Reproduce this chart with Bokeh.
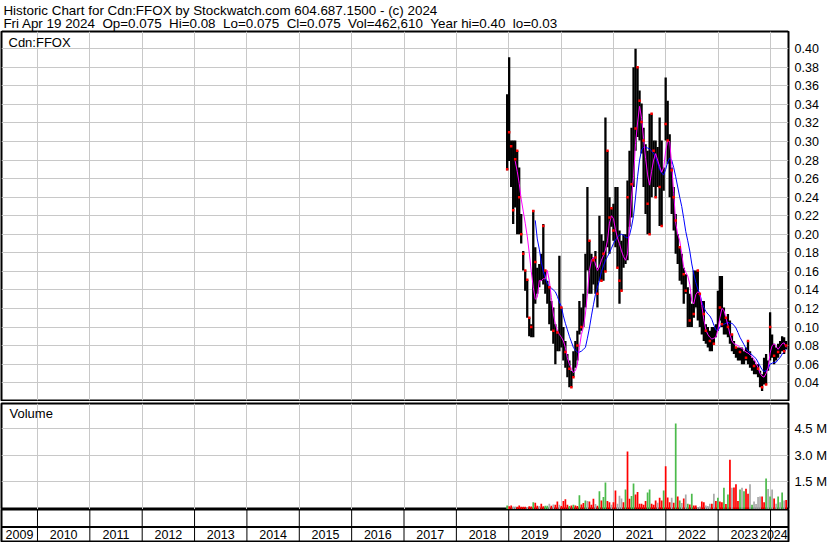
import numpy as np
import pandas as pd
from bokeh.plotting import figure
from bokeh.layouts import column
from bokeh.models import (Range1d, FixedTicker, Label, Span,
                          ColumnDataSource, PrintfTickFormatter)
from bokeh.core.properties import value
from bokeh.embed import file_html
from bokeh.resources import INLINE

# ---------------- data ----------------
title_line1 = "Historic Chart for Cdn:FFOX by Stockwatch.com 604.687.1500 - (c) 2024"
title_line2 = ("Fri Apr 19 2024 \u00a0Op=0.075 \u00a0Hi=0.08 \u00a0Lo=0.075 \u00a0Cl=0.075"
               " \u00a0Vol=462,610 \u00a0Year hi=0.40 \u00a0lo=0.03")
symbol_label = "Cdn:FFOX"
volume_label = "Volume"

last_date = "2024-04-19"   # bi-weekly bars ending on this date

price_high = [
    0.351, 0.391, 0.301, 0.301, 0.301, 0.290, 0.272, 0.222, 0.182, 0.161,
    0.151, 0.110, 0.103, 0.226, 0.186, 0.164, 0.168, 0.179, 0.211, 0.161,
    0.150, 0.143, 0.128, 0.121, 0.103, 0.096, 0.177, 0.121, 0.100, 0.085,
    0.071, 0.064, 0.053, 0.074, 0.085, 0.096, 0.128, 0.121, 0.136, 0.179,
    0.251, 0.193, 0.179, 0.175, 0.182, 0.164, 0.220, 0.200, 0.193, 0.326,
    0.290, 0.240, 0.229, 0.233, 0.251, 0.251, 0.204, 0.193, 0.200, 0.200,
    0.258, 0.290, 0.315, 0.380, 0.400, 0.380, 0.355, 0.341, 0.315, 0.297,
    0.290, 0.330, 0.330, 0.301, 0.301, 0.294, 0.326, 0.301, 0.272, 0.369,
    0.344, 0.308, 0.272, 0.251, 0.222, 0.200, 0.186, 0.179, 0.164, 0.157,
    0.143, 0.136, 0.125, 0.161, 0.161, 0.161, 0.136, 0.128, 0.128, 0.103,
    0.100, 0.096, 0.100, 0.100, 0.103, 0.139, 0.155, 0.155, 0.121, 0.110,
    0.114, 0.107, 0.092, 0.085, 0.078, 0.078, 0.078, 0.078, 0.074, 0.078,
    0.085, 0.074, 0.067, 0.064, 0.060, 0.060, 0.053, 0.049, 0.067, 0.071,
    0.064, 0.116, 0.092, 0.082, 0.078, 0.082, 0.085, 0.090, 0.089, 0.085]

price_low = [
    0.269, 0.279, 0.251, 0.211, 0.229, 0.200, 0.200, 0.190, 0.161, 0.139,
    0.110, 0.090, 0.089, 0.089, 0.125, 0.136, 0.143, 0.150, 0.146, 0.136,
    0.125, 0.103, 0.096, 0.082, 0.060, 0.074, 0.074, 0.078, 0.064, 0.056,
    0.046, 0.035, 0.035, 0.046, 0.056, 0.064, 0.092, 0.096, 0.100, 0.121,
    0.161, 0.136, 0.136, 0.146, 0.136, 0.121, 0.150, 0.150, 0.150, 0.160,
    0.186, 0.179, 0.208, 0.193, 0.186, 0.164, 0.125, 0.139, 0.164, 0.168,
    0.172, 0.208, 0.218, 0.251, 0.290, 0.305, 0.301, 0.287, 0.251, 0.222,
    0.200, 0.200, 0.240, 0.251, 0.240, 0.251, 0.209, 0.209, 0.247, 0.301,
    0.276, 0.240, 0.222, 0.204, 0.179, 0.168, 0.150, 0.146, 0.125, 0.136,
    0.100, 0.100, 0.100, 0.110, 0.121, 0.107, 0.100, 0.092, 0.085, 0.082,
    0.078, 0.074, 0.074, 0.082, 0.089, 0.096, 0.107, 0.100, 0.092, 0.092,
    0.089, 0.082, 0.074, 0.071, 0.067, 0.064, 0.064, 0.060, 0.060, 0.064,
    0.060, 0.056, 0.053, 0.049, 0.049, 0.046, 0.035, 0.031, 0.038, 0.038,
    0.053, 0.064, 0.067, 0.060, 0.064, 0.067, 0.071, 0.074, 0.071, 0.076]

close_marks = [
    0.270, 0.310, 0.295, 0.226, 0.281, 0.290, 0.240, 0.200, 0.179, 0.161,
    0.151, 0.110, 0.100, 0.225, 0.170, None, None, None, 0.209, 0.161,
    None, 0.143, None, 0.096, None, 0.094, None, 0.121, None, 0.073,
    None, 0.055, 0.035, 0.046, None, 0.080, None, 0.100, None, None,
    None, 0.193, None, 0.172, 0.175, 0.136, None, 0.150, 0.179, 0.160,
    0.290, 0.218, 0.228, 0.204, None, 0.164, 0.150, 0.139, None, None,
    0.240, None, 0.254, None, 0.314, 0.380, 0.344, 0.321, 0.301, None,
    0.233, 0.200, 0.330, 0.290, 0.240, None, 0.251, 0.209, None, 0.319,
    0.301, None, 0.269, 0.240, 0.215, None, 0.186, None, 0.157, 0.139,
    None, 0.107, None, 0.114, None, 0.161, 0.136, None, 0.114, 0.096,
    None, 0.085, None, 0.082, None, None, 0.121, 0.103, None, 0.110,
    0.100, None, 0.092, None, 0.078, None, 0.073, None, None, 0.067,
    0.085, None, None, 0.058, None, 0.055, None, 0.035, None, 0.038,
    None, 0.100, None, 0.069, None, 0.073, None, None, 0.074, 0.080]

ma_short = [
    None, None, None, None, 0.279, 0.268, 0.255, 0.238, 0.225, 0.212,
    0.198, 0.180, 0.160, 0.143, 0.130, 0.132, 0.150, 0.150, 0.152, 0.152,
    0.161, 0.150, 0.132, 0.114, 0.103, 0.096, 0.092, 0.089, 0.085, 0.078,
    0.067, 0.060, 0.055, 0.051, 0.053, 0.060, 0.078, 0.092, 0.100, 0.114,
    0.136, 0.161, 0.172, 0.175, 0.168, 0.161, 0.165, 0.172, 0.177, 0.183,
    0.193, 0.212, 0.220, 0.217, 0.205, 0.196, 0.190, 0.182, 0.176, 0.172,
    0.179, 0.208, 0.240, 0.262, 0.298, 0.320, 0.338, 0.325, 0.303, 0.282,
    0.264, 0.253, 0.268, 0.280, 0.287, 0.280, 0.273, 0.267, 0.272, 0.290,
    0.301, 0.300, 0.275, 0.245, 0.212, 0.200, 0.193, 0.179, 0.164, 0.159,
    0.155, 0.146, 0.128, 0.125, 0.135, 0.138, 0.136, 0.123, 0.108, 0.097,
    0.092, 0.089, 0.087, 0.088, 0.089, 0.097, 0.110, 0.120, 0.118, 0.110,
    0.102, 0.092, 0.085, 0.082, 0.081, 0.080, 0.078, 0.077, 0.075, 0.073,
    0.072, 0.070, 0.068, 0.065, 0.061, 0.056, 0.050, 0.047, 0.046, 0.050,
    0.056, 0.072, 0.080, 0.082, 0.079, 0.076, 0.079, 0.082, 0.083, 0.078]

ma_long = [
    None, None, None, None, None, None, None, None, None, None,
    None, None, None, None, 0.215, 0.195, 0.184, 0.170, 0.160, 0.153,
    0.147, 0.144, 0.142, 0.140, 0.138, 0.133, 0.127, 0.122, 0.112, 0.104,
    0.097, 0.090, 0.084, 0.078, 0.075, 0.073, 0.073, 0.074, 0.076, 0.078,
    0.088, 0.099, 0.112, 0.124, 0.135, 0.143, 0.150, 0.160, 0.166, 0.172,
    0.176, 0.180, 0.185, 0.190, 0.194, 0.197, 0.199, 0.200, 0.199, 0.197,
    0.196, 0.199, 0.208, 0.220, 0.240, 0.262, 0.280, 0.291, 0.294, 0.294,
    0.293, 0.292, 0.290, 0.287, 0.283, 0.277, 0.270, 0.266, 0.264, 0.270,
    0.278, 0.282, 0.280, 0.272, 0.262, 0.251, 0.240, 0.230, 0.217, 0.203,
    0.193, 0.182, 0.168, 0.157, 0.148, 0.141, 0.136, 0.127, 0.121, 0.117,
    0.114, 0.112, 0.108, 0.102, 0.097, 0.096, 0.100, 0.103, 0.103, 0.104,
    0.105, 0.104, 0.104, 0.102, 0.099, 0.094, 0.089, 0.085, 0.081, 0.077,
    0.074, 0.072, 0.070, 0.068, 0.066, 0.062, 0.058, 0.054, 0.052, 0.053,
    0.055, 0.060, 0.061, 0.062, 0.062, 0.065, 0.067, 0.071, 0.073, 0.076]

volume_m = [
    0.11, 0.06, 0.11, 0.05, 0.05, 0.04, 0.11, 0.04, 0.04, 0.04,
    0.03, 0.07, 0.05, 0.29, 0.27, 0.10, 0.08, 0.21, 0.06, 0.10,
    0.10, 0.21, 0.10, 0.17, 0.15, 0.34, 0.15, 0.08, 0.36, 0.46,
    0.15, 0.08, 0.11, 0.15, 0.11, 0.08, 0.69, 0.17, 0.25, 0.40,
    0.36, 0.34, 0.15, 0.50, 0.19, 0.10, 0.92, 0.40, 0.59, 1.43,
    0.36, 0.30, 0.15, 0.30, 0.97, 0.21, 0.67, 0.51, 0.30, 1.03,
    3.20, 0.50, 0.65, 1.37, 0.74, 0.88, 0.21, 0.21, 0.15, 0.36,
    0.86, 1.03, 0.21, 0.15, 0.40, 0.27, 0.55, 0.40, 0.97, 2.35,
    0.57, 0.30, 0.55, 0.27, 4.80, 0.63, 0.40, 0.25, 0.51, 0.74,
    0.21, 0.17, 0.78, 0.11, 0.11, 0.02, 0.05, 0.34, 0.29, 0.11,
    0.08, 0.21, 0.21, 0.78, 0.36, 0.55, 0.34, 0.30, 1.13, 0.20,
    0.74, 2.73, 1.13, 1.14, 1.32, 0.36, 1.03, 1.13, 0.92, 1.07,
    0.78, 1.32, 0.15, 0.34, 0.20, 0.59, 0.63, 0.63, 0.30, 1.66,
    1.05, 0.63, 1.03, 0.51, 0.21, 0.63, 0.29, 0.86, 0.40, 0.42]

# u = up (green), d = down (red), f = unchanged (gray)
volume_dir = (
    "u d d f f d d d d d "
    "f d d u d d f d d u "
    "u f d f d d f d d d "
    "d u d u d d u d d u "
    "f d d d f d u d u u "
    "d d f d d f f f d u "
    "d d u u d d d d d d "
    "u u d d d f d d u d "
    "d d f d u d u f d f "
    "u d u d d f f d d f "
    "f f d f d u d d u d "
    "u d f d d d u f u d "
    "d f u f f f f d d u "
    "f u f d f u f u f d").split()

year_labels = ["2009", "2010", "2011", "2012", "2013", "2014", "2015", "2016",
               "2017", "2018", "2019", "2020", "2021", "2022", "2023", "2024"]
price_ticks = [0.04, 0.06, 0.08, 0.10, 0.12, 0.14, 0.16, 0.18, 0.20,
               0.22, 0.24, 0.26, 0.28, 0.30, 0.32, 0.34, 0.36, 0.38, 0.40]
volume_ticks = [1.5, 3.0, 4.5]
volume_tick_labels = ["1.5 M", "3.0 M", "4.5 M"]

# ---------------- derived ----------------
n = len(price_high)
dates = pd.date_range(end=last_date, periods=n, freq="14D")
days_in_year = np.where(dates.is_leap_year, 366.0, 365.0)
t = dates.year.values + (dates.dayofyear.values - 1) / days_in_year

def arr(v):
    return np.array([np.nan if x is None else x for x in v], dtype=float)

dir_colors = {"u": "#4cbb4c", "d": "#ff0000", "f": "#aaaaaa"}
vol_colors = [dir_colors[d] for d in volume_dir]

X_START, X_END = 2009.313, 2024.343
P_LO, P_HI = 0.0208, 0.41865
V_LO, V_HI = -0.12, 5.95

year_bounds = [int(y) for y in year_labels[1:]]
# year label sits in the middle of the visible part of its year cell,
# kept inside the strip so it is not cut by the right edge
label_x = [min((max(int(y), X_START) + min(int(y) + 1, X_END)) / 2, X_END - 0.28)
           for y in year_labels]

GRID = "#c8c8c8"
FONT = "Liberation Sans"
W = 830
RIGHT = 41
bar_w = 16 / 365.25
vol_w = 12 / 365.25

xr = Range1d(X_START, X_END)

def bare(fig):
    fig.xgrid.visible = False
    fig.ygrid.visible = False
    fig.background_fill_color = "white"
    fig.border_fill_color = "white"

# ---------------- header ----------------
h = figure(width=W, height=31, x_range=Range1d(0, W), y_range=Range1d(31, 0),
           x_axis_location=None, y_axis_location=None, title=None,
           output_backend="svg", toolbar_location=None,
           min_border_left=0, min_border_right=0, min_border_top=0, min_border_bottom=0)
bare(h)
h.outline_line_color = None
h.add_layout(Label(x=2, y=2.0, text=title_line1, text_font=FONT, text_font_size="13.4px",
                   text_color="black", text_baseline="top"))
h.add_layout(Label(x=2, y=15.6, text=title_line2, text_font=FONT, text_font_size="13.4px",
                   text_color="black", text_baseline="top"))
h.add_layout(Span(location=30.5, dimension="width", line_color="black", line_width=1))

# ---------------- price panel ----------------
src = ColumnDataSource(dict(t=t, hi=arr(price_high), lo=arr(price_low),
                            cl=arr(close_marks), ma1=arr(ma_short), ma2=arr(ma_long)))

p = figure(width=W, height=370, x_range=xr, y_range=Range1d(P_LO, P_HI),
           x_axis_location=None, y_axis_location="right", title=None,
           output_backend="svg", toolbar_location=None,
           min_border_left=1, min_border_right=RIGHT, min_border_top=0, min_border_bottom=1)

p.vbar(x="t", width=bar_w, top="hi", bottom="lo", source=src,
       fill_color="black", line_color=None)
p.line(x="t", y="ma2", source=src, line_color="#0000ff", line_width=1)
p.line(x="t", y="ma1", source=src, line_color="#ff00ff", line_width=1)
p.scatter(x="t", y="cl", source=src, marker="square", size=2.5,
          fill_color="#ff0000", line_color=None)

p.add_layout(Label(x=X_START, y=0.4146, x_offset=7, text=symbol_label, text_font=FONT,
                   text_font_size="13px", text_color="black", text_baseline="top"))

# ---------------- volume panel ----------------
vsrc = ColumnDataSource(dict(t=t, v=arr(volume_m), c=vol_colors))
v = figure(width=W, height=108, x_range=xr, y_range=Range1d(V_LO, V_HI),
           x_axis_location=None, y_axis_location="right", title=None,
           output_backend="svg", toolbar_location=None,
           min_border_left=1, min_border_right=RIGHT, min_border_top=2, min_border_bottom=0)
v.vbar(x="t", width=vol_w, top="v", bottom=V_LO, source=vsrc,
       fill_color="c", line_color=None)
v.add_layout(Label(x=X_START, y=5.79, x_offset=8, text=volume_label, text_font=FONT,
                   text_font_size="13px", text_color="black", text_baseline="top"))

for fig, ticks, fsize in ((p, price_ticks, "12.5px"), (v, volume_ticks, "13px")):
    fig.outline_line_color = "black"
    fig.outline_line_width = 2
    fig.background_fill_color = "white"
    fig.border_fill_color = "white"
    fig.xgrid.ticker = FixedTicker(ticks=year_bounds)
    fig.ygrid.ticker = FixedTicker(ticks=ticks)
    for g in (fig.xgrid, fig.ygrid):
        g.grid_line_color = GRID
        g.grid_line_width = 1
    ax = fig.yaxis[0]
    ax.ticker = FixedTicker(ticks=ticks)
    ax.axis_line_color = None
    ax.major_tick_line_color = None
    ax.minor_tick_line_color = None
    ax.major_tick_out = 0
    ax.major_tick_in = 0
    ax.major_label_standoff = 6
    ax.major_label_text_font = FONT
    ax.major_label_text_font_size = fsize
    ax.major_label_text_color = "black"

p.yaxis[0].formatter = PrintfTickFormatter(format="%.2f")
v.yaxis[0].major_label_overrides = {tv: lab for tv, lab in zip(volume_ticks, volume_tick_labels)}

# ---------------- year strip ----------------
s = figure(width=W, height=33, x_range=xr, y_range=Range1d(0, 1),
           x_axis_location=None, y_axis_location=None, title=None,
           output_backend="svg", toolbar_location=None,
           min_border_left=1, min_border_right=RIGHT, min_border_top=0, min_border_bottom=1)
bare(s)
s.outline_line_color = "black"
s.outline_line_width = 2
s.segment(x0=year_bounds, x1=year_bounds, y0=[0] * len(year_bounds), y1=[1] * len(year_bounds),
          line_color="black", line_width=1)
s.add_layout(Span(location=0.455, dimension="width", line_color="black", line_width=2))
s.text(x=label_x, y=[0.21] * len(label_x), text=year_labels, text_align="center",
       text_baseline="middle", text_font=value(FONT), text_font_size="12.5px",
       text_color="black")

layout = column(h, p, v, s, spacing=0)
open("out.html", "w").write(file_html(layout, INLINE))
